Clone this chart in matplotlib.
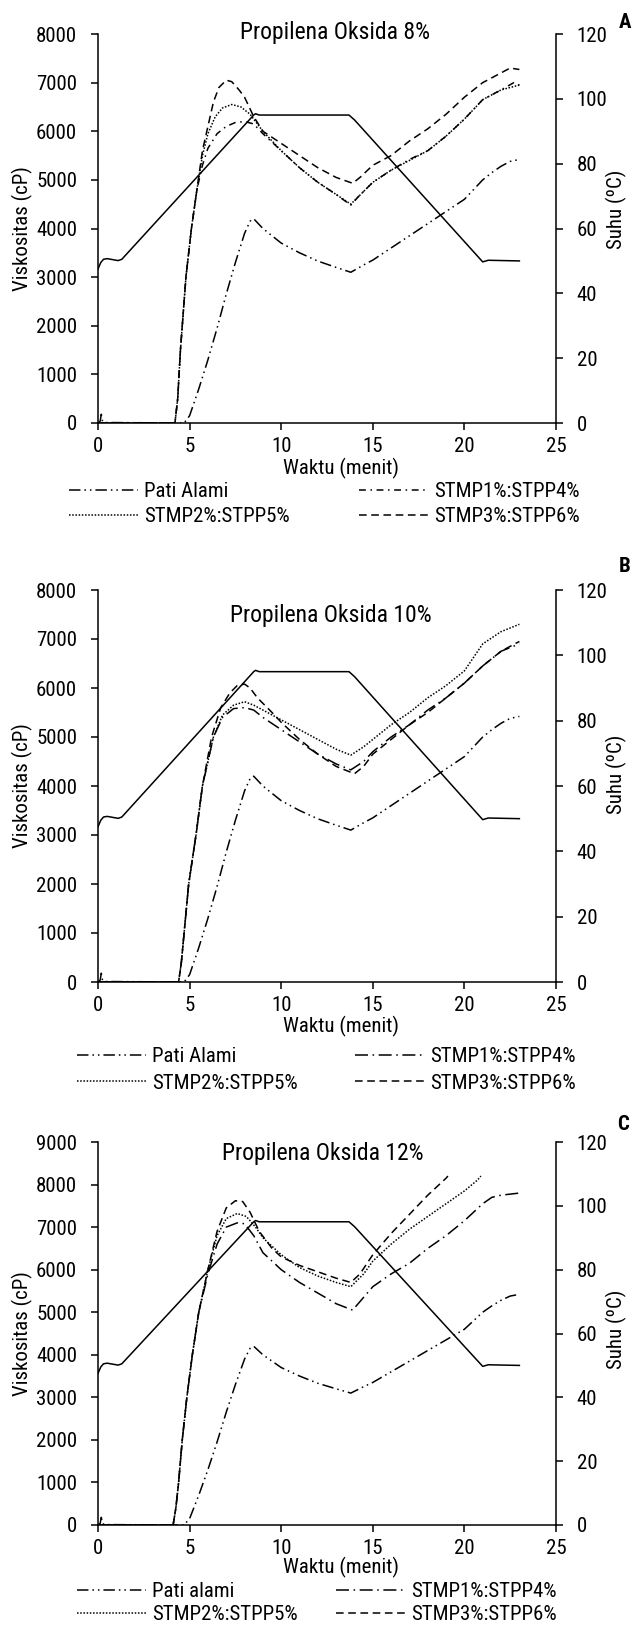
import matplotlib
matplotlib.use("Agg")
from matplotlib import pyplot as plt
from matplotlib import font_manager
from matplotlib.lines import Line2D

# the original uses Arial Narrow; take the closest condensed face installed
font_names = {f.name for f in font_manager.fontManager.ttflist}
narrow_pref = ['Liberation Sans Narrow', 'Arial Narrow', 'Roboto Condensed', 'Noto Sans Condensed',
               'Open Sans Condensed', 'DejaVu Sans Condensed']
found = [n for n in narrow_pref if n in font_names]
if found:
    plt.rcParams['font.family'] = [found[0], 'DejaVu Sans']
else:
    cond = [f.name for f in font_manager.fontManager.ttflist
            if f.stretch in ('condensed', 'semi-condensed', 'extra-condensed') and 'Mono' not in f.name
            and 'Serif' not in f.name]
    if cond:
        plt.rcParams['font.family'] = [cond[0], 'DejaVu Sans']
        plt.rcParams['font.stretch'] = 'condensed'
    else:
        plt.rcParams['font.family'] = ['Liberation Sans', 'DejaVu Sans']

# temperature profile, identical in the three runs (right axis, deg C)
suhu_waktu = [0.0, 0.15, 0.3, 0.5, 0.8, 1.1, 1.3, 8.5, 8.6, 8.8, 13.7, 14.0, 21.0, 21.3, 23.0]
suhu_nilai = [47.5, 49.5, 50.5, 50.7, 50.4, 50.1, 50.5, 95.0, 95.4, 95.0, 95.0, 93.5, 49.7, 50.2, 50.0]

# native starch, also the same curve in every panel (small spike right at the start)
pati_waktu = [0.0, 0.12, 0.18, 0.25, 0.4, 4.7, 5.0, 5.5, 6.0, 6.5, 7.0, 7.5, 8.0, 8.3, 8.5, 9.0, 10.0, 11.0,
              12.0, 13.0, 13.8, 14.5, 15.0, 16.0, 17.0, 18.0, 19.0, 20.0, 20.5, 21.0, 21.5, 22.0, 22.5, 23.0]
pati_visk = [0, 40, 180, 30, 10, 0, 150, 700, 1300, 1950, 2650, 3300, 3900, 4150, 4200, 4000, 3700, 3500,
             3330, 3200, 3100, 3250, 3350, 3600, 3850, 4100, 4350, 4600, 4800, 5000, 5150, 5280, 5380, 5420]

# panel A, propilena oksida 8%
a_stmp1_waktu = [0.0, 4.2, 4.35, 4.5, 4.8, 5.1, 5.4, 5.7, 6.0, 6.5, 7.0, 7.5, 8.0, 8.5, 9.0,
                 10.0, 11.0, 12.0, 13.0, 13.8, 14.2, 15.0, 16.0, 17.0, 18.0, 19.0, 20.0, 21.0, 22.0, 22.7, 23.0]
a_stmp1_visk = [0, 0, 500, 1500, 3000, 4000, 4800, 5300, 5650, 5950, 6100, 6180, 6200, 6150, 5950,
                5600, 5250, 4950, 4700, 4480, 4650, 4950, 5200, 5420, 5600, 5900, 6250, 6650, 6850, 7000, 6950]
a_stmp2_waktu = [0.0, 4.2, 4.35, 4.5, 4.8, 5.1, 5.4, 5.7, 6.0, 6.4, 6.8, 7.3, 7.8, 8.3, 9.0, 10.0, 11.0, 12.0,
                 13.0, 13.8, 14.2, 15.0, 16.0, 17.0, 18.0, 19.0, 20.0, 21.0, 22.0, 23.0]
a_stmp2_visk = [0, 0, 500, 1500, 3000, 4000, 4800, 5500, 5950, 6300, 6480, 6550, 6500, 6350, 6000, 5600, 5250, 4950,
                4700, 4500, 4650, 4950, 5200, 5400, 5600, 5900, 6250, 6650, 6850, 6950]
a_stmp3_waktu = [0.0, 4.2, 4.35, 4.5, 4.8, 5.1, 5.4, 5.7, 6.0, 6.3, 6.6, 7.0, 7.3, 7.7, 8.0, 8.5, 9.0, 10.0, 11.0,
                 12.0, 13.0, 13.9, 14.3, 15.0, 16.0, 17.0, 18.0, 19.0, 20.0, 21.0, 22.0, 22.5, 23.0]
a_stmp3_visk = [0, 0, 500, 1500, 3000, 4000, 4800, 5600, 6100, 6600, 6900, 7050, 7020, 6850, 6700, 6300, 6000, 5750,
                5500, 5250, 5050, 4930, 5050, 5300, 5500, 5800, 6050, 6350, 6700, 7000, 7200, 7300, 7270]

# panel B, propilena oksida 10%
b_stmp1_waktu = [0.0, 4.4, 4.55, 4.7, 4.95, 5.35, 5.7, 6.3, 6.8, 7.4, 8.0, 8.5, 9.0, 10.0,
                 11.0, 12.0, 13.0, 13.8, 14.5, 15.0, 16.0, 17.0, 18.0, 19.0, 20.0, 21.0, 22.0, 23.0]
b_stmp1_visk = [0, 0, 400, 1000, 2000, 3000, 4000, 5000, 5400, 5580, 5600, 5550, 5400, 5150,
                4900, 4650, 4450, 4330, 4500, 4700, 5000, 5250, 5550, 5800, 6100, 6450, 6750, 6900]
b_stmp2_waktu = [0.0, 4.4, 4.55, 4.7, 4.95, 5.35, 5.7, 6.3, 6.8, 7.4, 8.0, 8.5, 9.0, 10.0, 11.0, 12.0, 13.0, 13.8,
                 14.5, 15.0, 16.0, 17.0, 18.0, 19.0, 20.0, 21.0, 22.0, 23.0]
b_stmp2_visk = [0, 0, 400, 1000, 2000, 3000, 4000, 5000, 5450, 5650, 5720, 5650, 5550, 5350, 5150, 4950, 4750, 4630,
                4800, 4950, 5250, 5500, 5800, 6050, 6350, 6900, 7150, 7300]
b_stmp3_waktu = [0.0, 4.4, 4.55, 4.7, 4.95, 5.35, 5.7, 6.2, 6.7, 7.2, 7.6, 8.0, 8.3, 8.7, 9.5, 10.0, 11.0, 12.0,
                 13.0, 14.0, 14.5, 15.0, 16.0, 17.0, 18.0, 19.0, 20.0, 21.0, 22.0, 23.0]
b_stmp3_visk = [0, 0, 400, 1000, 2000, 3000, 4000, 5000, 5600, 5900, 6050, 6080, 6000, 5800, 5500, 5300, 4950, 4650,
                4400, 4250, 4400, 4650, 4950, 5250, 5500, 5800, 6100, 6450, 6750, 6950]

# panel C, propilena oksida 12%
c_stmp1_waktu = [0.0, 4.1, 4.25, 4.4, 4.6, 4.85, 5.15, 5.5, 6.0, 6.5, 7.0, 7.6, 8.0, 8.5, 9.0,
                 10.0, 11.0, 12.0, 13.0, 13.9, 14.5, 15.0, 16.0, 17.0, 18.0, 19.0, 20.0, 21.0, 21.5, 22.0, 23.0]
c_stmp1_visk = [0, 0, 400, 1000, 2000, 3000, 4000, 5000, 5900, 6600, 7000, 7100, 7080, 6800, 6400,
                6000, 5700, 5450, 5200, 5050, 5350, 5600, 5900, 6150, 6500, 6800, 7150, 7550, 7700, 7750, 7800]
c_stmp2_waktu = [0.0, 4.1, 4.25, 4.4, 4.6, 4.85, 5.15, 5.5, 6.0, 6.5, 7.0, 7.6, 8.1, 8.6, 9.0, 10.0, 11.0, 12.0,
                 13.0, 13.8, 14.5, 15.0, 16.0, 17.0, 18.0, 19.0, 20.0, 20.7, 20.9]
c_stmp2_visk = [0, 0, 400, 1000, 2000, 3000, 4000, 5000, 6000, 6800, 7200, 7320, 7250, 7000, 6750, 6350, 6050, 5850,
                5700, 5600, 5900, 6200, 6600, 6950, 7250, 7550, 7850, 8100, 8200]
c_stmp3_waktu = [0.0, 4.1, 4.25, 4.4, 4.6, 4.85, 5.15, 5.5, 6.0, 6.5, 7.0, 7.5, 7.9, 8.3, 8.8, 9.5, 10.0, 11.0,
                 12.0, 13.0, 13.8, 14.3, 15.0, 16.0, 17.0, 18.0, 19.0, 19.1]
c_stmp3_visk = [0, 0, 400, 1000, 2000, 3000, 4000, 5000, 6000, 6900, 7450, 7620, 7600, 7350, 6900, 6500, 6300, 6100,
                5950, 5800, 5700, 5900, 6350, 6850, 7300, 7750, 8150, 8200]

judul = ["Propilena Oksida 8%", "Propilena Oksida 10%", "Propilena Oksida 12%"]
huruf = ["A", "B", "C"]
label_pati = ["Pati Alami", "Pati Alami", "Pati alami"]
label_stmp = ["STMP1%:STPP4%", "STMP2%:STPP5%", "STMP3%:STPP6%"]
ymax_visk = [8000, 8000, 9000]

W, H = 637, 1629
LW = 1.1
DASH_PATI = (7.5, 2.6, 1, 2.6, 1, 2.6)
DASH_STMP1 = [(4.5, 3, 1, 3), (8.5, 3, 1, 3), (8.5, 3, 1, 3)]
DASH_STMP2 = (1, 1.1)
DASH_STMP3 = (5, 3)

# layout in pixels of the original picture
boxes = [(34, 423), (590, 982), (1142, 1525)]
left_px, right_px = 98, 556
title_pos = [(0.517, 1.005), (0.508, 0.936), (0.491, 0.969)]
suhu_label_y = [0.55, 0.53, 0.51]
xlabel_top = [35, 34, 32]
legend_mid = [504, 1070, 1603]
legend_space = [0.3, 0.35, 0.2]
legend_cols = [(69, 359), (77, 355), (77, 336)]
huruf_pos = [(625, 22), (625, 567), (623, 1125)]


def draw_panel(fig, i, series):
    top, bottom = boxes[i]
    ax = fig.add_axes([left_px / W, 1 - bottom / H, (right_px - left_px) / W, (bottom - top) / H])
    ax2 = ax.twinx()

    ax2.plot(suhu_waktu, suhu_nilai, color='k', lw=LW)

    styles = [DASH_PATI, DASH_STMP1[i], DASH_STMP2, DASH_STMP3]
    for (t, v), dash in zip(series, styles):
        ln, = ax.plot(t, v, color='k', lw=LW)
        ln.set_dashes(dash)

    ax.set_xlim(0, 25)
    ax.set_ylim(0, ymax_visk[i])
    ax2.set_ylim(0, 120)
    ax.set_xticks(range(0, 26, 5))
    ax.set_yticks(range(0, ymax_visk[i] + 1, 1000))
    ax2.set_yticks(range(0, 121, 20))

    for a in (ax, ax2):
        a.spines['top'].set_visible(False)
        for s in a.spines.values():
            s.set_linewidth(1.1)
        a.tick_params(direction='out', length=5, width=1.1, labelsize=15, pad=10)
        a.patch.set_visible(False)
    ax.tick_params(axis='x', pad=5)
    ax.spines['right'].set_visible(False)
    ax2.spines['left'].set_visible(False)
    ax2.spines['bottom'].set_visible(False)

    w_px, h_px = right_px - left_px, bottom - top
    ax.set_xlabel("Waktu (menit)", fontsize=15)
    ax.xaxis.set_label_coords(0.53, -xlabel_top[i] / h_px)
    ax.set_ylabel("Viskositas (cP)", fontsize=15)
    ax.yaxis.set_label_coords((33 - left_px) / w_px, 0.5)
    ax2.set_ylabel("Suhu (ºC)", fontsize=15)
    ax2.yaxis.set_label_coords((606 - left_px) / w_px, suhu_label_y[i])

    ax.text(title_pos[i][0], title_pos[i][1], judul[i], transform=ax.transAxes,
            ha='center', va='center', fontsize=17)
    fig.text(huruf_pos[i][0] / W, 1 - huruf_pos[i][1] / H, huruf[i], ha='center', va='center',
             fontsize=15, fontweight='bold')

    labels = [label_pati[i]] + label_stmp
    for col, idx in enumerate([(0, 2), (1, 3)]):
        hs = []
        for j in idx:
            h = Line2D([], [], color='k', lw=LW)
            h.set_dashes(styles[j])
            hs.append(h)
        fig.legend(hs, [labels[j] for j in idx], loc='center left',
                   bbox_to_anchor=(legend_cols[i][col] / W, 1 - legend_mid[i] / H),
                   bbox_transform=fig.transFigure, frameon=False, fontsize=15,
                   borderpad=0, borderaxespad=0, handlelength=3.3, handletextpad=0.3,
                   labelspacing=legend_space[i])


fig = plt.figure(figsize=(W / 100, H / 100), dpi=100)
draw_panel(fig, 0, [(pati_waktu, pati_visk), (a_stmp1_waktu, a_stmp1_visk),
                    (a_stmp2_waktu, a_stmp2_visk), (a_stmp3_waktu, a_stmp3_visk)])
draw_panel(fig, 1, [(pati_waktu, pati_visk), (b_stmp1_waktu, b_stmp1_visk),
                    (b_stmp2_waktu, b_stmp2_visk), (b_stmp3_waktu, b_stmp3_visk)])
draw_panel(fig, 2, [(pati_waktu, pati_visk), (c_stmp1_waktu, c_stmp1_visk),
                    (c_stmp2_waktu, c_stmp2_visk), (c_stmp3_waktu, c_stmp3_visk)])
fig.savefig("out.png", dpi=100)
